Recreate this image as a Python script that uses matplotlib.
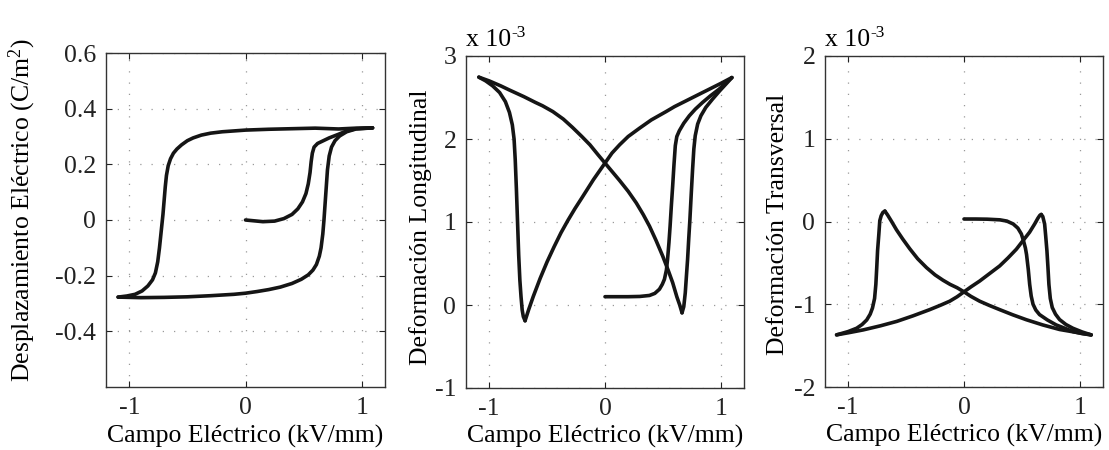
import numpy as np
import matplotlib
matplotlib.use("Agg")
import matplotlib.pyplot as plt

# --- datos ---
# Desplazamiento electrico (C/m^2) vs campo (kV/mm)
d_ini_x = [0.0, 0.15, 0.25, 0.33, 0.40, 0.45, 0.49, 0.52, 0.54, 0.555, 0.565, 0.575, 0.59,
           0.62, 0.67, 0.72, 0.80, 0.87, 0.95, 1.093]
d_ini_y = [0.0, -0.006, -0.004, 0.005, 0.02, 0.04, 0.065, 0.095, 0.13, 0.17, 0.21, 0.24, 0.262,
           0.275, 0.285, 0.295, 0.308, 0.32, 0.328, 0.331]
d_sup_x = [1.093, 0.95, 0.8, 0.6, 0.4, 0.2, 0.0, -0.2, -0.3, -0.38, -0.45, -0.5, -0.55, -0.59,
           -0.62, -0.645, -0.665, -0.68, -0.69, -0.70, -0.71, -0.725, -0.74, -0.755, -0.775,
           -0.80, -0.84, -0.89, -0.95, -1.02, -1.096]
d_sup_y = [0.331, 0.330, 0.327, 0.330, 0.328, 0.326, 0.323, 0.317, 0.312, 0.305, 0.295, 0.285,
           0.27, 0.255, 0.24, 0.22, 0.195, 0.16, 0.12, 0.07, 0.02, -0.04, -0.10, -0.15, -0.19,
           -0.215, -0.237, -0.255, -0.267, -0.273, -0.277]
d_inf_x = [-1.096, -0.9, -0.7, -0.5, -0.3, -0.1, 0.0, 0.1, 0.2, 0.3, 0.4, 0.48, 0.54, 0.58,
           0.61, 0.635, 0.65, 0.665, 0.675, 0.685, 0.695, 0.705, 0.72, 0.74, 0.77, 0.81, 0.87,
           0.95, 1.093]
d_inf_y = [-0.277, -0.279, -0.278, -0.276, -0.272, -0.267, -0.263, -0.257, -0.25, -0.241,
           -0.228, -0.213, -0.197, -0.18, -0.16, -0.13, -0.1, -0.05, 0.0, 0.06, 0.12, 0.18,
           0.23, 0.262, 0.285, 0.302, 0.317, 0.327, 0.331]

# Deformacion longitudinal (x 1e-3)
l_ini_x = [0.0, 0.1, 0.2, 0.3, 0.384, 0.43, 0.47, 0.495, 0.513, 0.53, 0.54, 0.552, 0.562,
           0.573, 0.584, 0.595, 0.607, 0.62, 0.642, 0.68, 0.728, 0.78, 0.842, 0.91, 0.985,
           1.04, 1.095]
l_ini_y = [0.10, 0.10, 0.10, 0.103, 0.115, 0.14, 0.19, 0.25, 0.31, 0.42, 0.55, 0.75, 0.95,
           1.2, 1.43, 1.68, 1.92, 2.03, 2.10, 2.19, 2.28, 2.36, 2.44, 2.52, 2.60, 2.67, 2.74]
l_baj_x = [1.095, 1.0, 0.9, 0.814, 0.7, 0.6, 0.527, 0.4, 0.298, 0.2, 0.126, 0.06, 0.0, -0.05,
           -0.10, -0.15, -0.20, -0.26, -0.32, -0.38, -0.44, -0.50, -0.56, -0.62, -0.66, -0.69]
l_baj_y = [2.74, 2.67, 2.60, 2.54, 2.46, 2.39, 2.33, 2.23, 2.13, 2.03, 1.93, 1.83, 1.71, 1.61,
           1.51, 1.40, 1.29, 1.16, 1.02, 0.87, 0.70, 0.52, 0.32, 0.10, -0.06, -0.19]
l_izq_x = [-0.69, -0.705, -0.715, -0.725, -0.735, -0.745, -0.755, -0.765, -0.775, -0.785,
           -0.80, -0.825, -0.86, -0.91, -0.97, -1.03, -1.089]
l_izq_y = [-0.19, -0.14, -0.06, 0.1, 0.3, 0.6, 1.0, 1.4, 1.75, 2.0, 2.17, 2.32, 2.45, 2.56,
           2.64, 2.70, 2.745]
l_sub_x = [-1.089, -1.0, -0.9, -0.825, -0.7, -0.6, -0.539, -0.45, -0.36, -0.281, -0.2, -0.13,
           -0.06, 0.0, 0.06, 0.126, 0.2, 0.27, 0.33, 0.384, 0.44, 0.498, 0.545, 0.584, 0.62,
           0.645, 0.665]
l_sub_y = [2.745, 2.70, 2.64, 2.59, 2.51, 2.44, 2.40, 2.33, 2.24, 2.14, 2.03, 1.93, 1.81, 1.71,
           1.61, 1.50, 1.37, 1.23, 1.09, 0.95, 0.78, 0.59, 0.42, 0.27, 0.10, 0.0, -0.094]
l_der_x = [0.665, 0.68, 0.693, 0.703, 0.713, 0.723, 0.733, 0.745, 0.756, 0.767, 0.779, 0.80,
           0.828, 0.87, 0.928, 0.99, 1.043, 1.095]
l_der_y = [-0.094, -0.02, 0.147, 0.35, 0.55, 0.8, 1.03, 1.35, 1.63, 1.88, 2.04, 2.18, 2.28,
           2.38, 2.48, 2.58, 2.66, 2.74]

# Deformacion transversal (x 1e-3)
t_ini_x = [0.0, 0.1, 0.2, 0.31, 0.37, 0.425, 0.465, 0.495, 0.515, 0.53, 0.54, 0.555, 0.567,
           0.58, 0.596, 0.62, 0.652, 0.72, 0.796, 0.87, 0.94, 1.02, 1.098]
t_ini_y = [0.03, 0.03, 0.028, 0.02, 0.005, -0.03, -0.08, -0.15, -0.24, -0.32, -0.40, -0.58,
           -0.76, -0.90, -1.0, -1.07, -1.125, -1.19, -1.25, -1.29, -1.33, -1.355, -1.37]
t_baj_x = [1.098, 0.95, 0.825, 0.68, 0.538, 0.42, 0.308, 0.22, 0.135, 0.06, 0.0, -0.06, -0.12,
           -0.181, -0.25, -0.324, -0.40, -0.468, -0.53, -0.583, -0.625, -0.66, -0.683]
t_baj_y = [-1.37, -1.335, -1.305, -1.25, -1.187, -1.127, -1.065, -1.015, -0.963, -0.905, -0.85,
           -0.80, -0.76, -0.71, -0.645, -0.557, -0.45, -0.33, -0.21, -0.10, 0.0, 0.08, 0.126]
t_izq_x = [-0.683, -0.70, -0.715, -0.727, -0.735, -0.746, -0.753, -0.761, -0.772, -0.79, -0.81,
           -0.84, -0.88, -0.927, -1.0, -1.10]
t_izq_y = [0.126, 0.11, 0.07, 0.01, -0.15, -0.35, -0.55, -0.76, -0.93, -1.045, -1.12, -1.19,
           -1.245, -1.29, -1.33, -1.37]
t_sub_x = [-1.10, -1.0, -0.87, -0.72, -0.58, -0.44, -0.296, -0.2, -0.123, -0.06, 0.0, 0.06,
           0.135, 0.22, 0.308, 0.38, 0.452, 0.51, 0.566, 0.61, 0.638, 0.655, 0.667]
t_sub_y = [-1.37, -1.345, -1.31, -1.26, -1.207, -1.14, -1.065, -1.01, -0.963, -0.91, -0.85,
           -0.79, -0.72, -0.63, -0.537, -0.44, -0.335, -0.23, -0.13, -0.03, 0.04, 0.075, 0.085]
t_der_x = [0.667, 0.68, 0.696, 0.705, 0.716, 0.725, 0.733, 0.745, 0.762, 0.79, 0.825, 0.88,
           0.94, 1.02, 1.098]
t_der_y = [0.085, 0.06, -0.03, -0.17, -0.355, -0.56, -0.76, -0.93, -1.04, -1.12, -1.185,
           -1.245, -1.29, -1.335, -1.37]

x_ticks = [-1, 0, 1]
d_ticks = [-0.4, -0.2, 0, 0.2, 0.4, 0.6]
l_ticks = [-1, 0, 1, 2, 3]
t_ticks = [-2, -1, 0, 1, 2]

plt.rcParams['font.family'] = ['Liberation Serif', 'DejaVu Serif']
plt.rcParams['mathtext.default'] = 'regular'
plt.rcParams['axes.unicode_minus'] = False
FS = 18.5
LINE = dict(color='#151515', lw=2.6, solid_capstyle='round', solid_joinstyle='round')


def setup(ax, ylim, yticks, ylabel, ylab_x, ylab_y):
    ax.set_xlim(-1.2, 1.2)
    ax.set_ylim(*ylim)
    ax.set_xticks(x_ticks)
    ax.set_yticks(yticks)
    ax.set_yticklabels(['%g' % v for v in yticks])
    ax.tick_params(direction='in', length=4, width=0.8, top=True, right=True,
                   labelsize=FS, pad=7, colors='#222222')
    ax.grid(True, color='#999999', lw=0.9, linestyle=(0, (1, 8)))
    for s in ax.spines.values():
        s.set_linewidth(1.0)
        s.set_color('#333333')
    ax.set_xlabel('Campo Eléctrico (kV/mm)', fontsize=FS)
    ax.xaxis.set_label_coords(0.5, -0.112)
    ax.set_ylabel(ylabel, fontsize=FS)
    ax.yaxis.set_label_coords(ylab_x, ylab_y)


def multiplier(ax):
    # "x 10^-3" al estilo MATLAB, con guion corto
    t = ax.text(0.0, 1.03, 'x 10', transform=ax.transAxes, fontsize=FS,
                ha='left', va='baseline')
    ax.annotate('-3', xy=(1.0, 0.62), xycoords=t, fontsize=12.5,
                ha='left', va='baseline')


def main():
    fig = plt.figure(figsize=(11.09, 4.5), dpi=100)

    ax1 = fig.add_axes([106/1109, 1-387/450, 279/1109, 334/450])
    ax1.plot(d_sup_x, d_sup_y, **LINE)
    ax1.plot(d_inf_x, d_inf_y, **LINE)
    ax1.plot(d_ini_x, d_ini_y, **LINE)
    setup(ax1, (-0.6, 0.6), d_ticks, 'Desplazamiento Eléctrico (C/m$^2$)', -0.244, 0.53)

    ax2 = fig.add_axes([466/1109, 1-388/450, 278/1109, 332/450])
    for xs, ys in [(l_baj_x, l_baj_y), (l_izq_x, l_izq_y), (l_sub_x, l_sub_y),
                   (l_der_x, l_der_y), (l_ini_x, l_ini_y)]:
        ax2.plot(xs, ys, **LINE)
    setup(ax2, (-1, 3), l_ticks, 'Deformación Longitudinal', -0.122, 0.483)
    multiplier(ax2)

    ax3 = fig.add_axes([825/1109, 1-387/450, 278/1109, 331/450])
    for xs, ys in [(t_baj_x, t_baj_y), (t_izq_x, t_izq_y), (t_sub_x, t_sub_y),
                   (t_der_x, t_der_y), (t_ini_x, t_ini_y)]:
        ax3.plot(xs, ys, **LINE)
    setup(ax3, (-2, 2), t_ticks, 'Deformación Transversal', -0.13, 0.492)
    multiplier(ax3)

    fig.savefig('out.png', dpi=100)


if __name__ == '__main__':
    main()
